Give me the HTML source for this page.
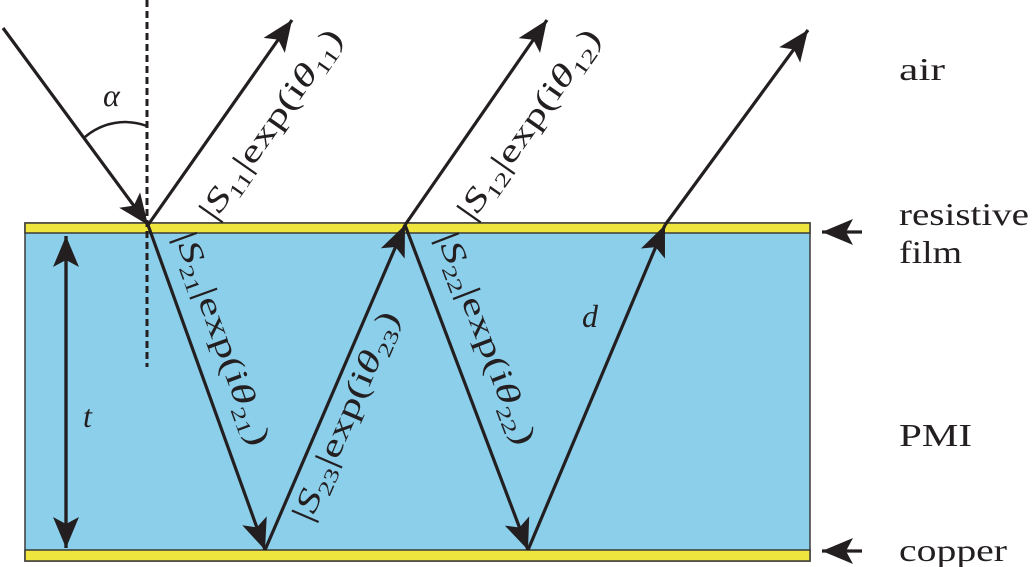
<!DOCTYPE html>
<html><head><style>body{margin:0;background:#fff}svg{display:block}text{font-family:"Liberation Serif",serif;fill:#231f20}</style></head>
<body>
<svg width="1034" height="567" viewBox="0 0 1034 567">
<defs><marker id="a" viewBox="0 0 10 10" refX="9" refY="5" markerWidth="10" markerHeight="10" markerUnits="userSpaceOnUse" orient="auto" style="overflow:visible"><path d="M-22,-8 L9,5 L-22,18 L-15,5 Z" fill="#231f20"/></marker></defs>
<rect x="25" y="223" width="785" height="338" fill="#8ccfeb" stroke="#3a3a3a" stroke-width="1.5"/>
<rect x="25" y="223" width="785" height="10" fill="#efe53f" stroke="#3a3a3a" stroke-width="1.5"/>
<rect x="25" y="550" width="785" height="11" fill="#efe53f" stroke="#3a3a3a" stroke-width="1.5"/>
<line x1="147" y1="0" x2="147" y2="367" stroke="#231f20" stroke-width="3" stroke-dasharray="7,4"/>
<g stroke="#231f20" stroke-width="3.2" fill="none" marker-end="url(#a)">
<line x1="3" y1="28" x2="148" y2="225"/>
<line x1="148" y1="225" x2="292" y2="20"/>
<line x1="148" y1="225" x2="265" y2="550"/>
<line x1="265" y1="550" x2="405" y2="225"/>
<line x1="405" y1="225" x2="547" y2="20"/>
<line x1="405" y1="225" x2="528" y2="550"/>
<line x1="528" y1="550" x2="665" y2="225"/>
<line x1="665" y1="225" x2="808" y2="30"/>
<line x1="66" y1="548" x2="66" y2="236"/>
<line x1="66" y1="236" x2="66" y2="548"/>
<line x1="862" y1="232" x2="822" y2="232"/>
<line x1="862" y1="551" x2="822" y2="551"/>
</g>
<path d="M85,137 A62,62 0 0 1 147,126" stroke="#231f20" stroke-width="2.5" fill="none"/>
<g font-size="32">
<text x="103" y="106" font-style="italic">α</text>
<text x="83" y="427" font-style="italic">t</text>
<text x="582" y="327" font-style="italic">d</text>
<text x="899" y="80" textLength="46" lengthAdjust="spacingAndGlyphs">air</text>
<text x="899" y="225" textLength="130" lengthAdjust="spacingAndGlyphs">resistive</text>
<text x="899" y="263" textLength="63" lengthAdjust="spacingAndGlyphs">film</text>
<text x="899" y="446" textLength="73" lengthAdjust="spacingAndGlyphs">PMI</text>
<text x="899" y="561" textLength="108" lengthAdjust="spacingAndGlyphs">copper</text>
<text transform="translate(279,130) rotate(-55)" text-anchor="middle" textLength="225" lengthAdjust="spacingAndGlyphs">|<tspan font-style="italic">S</tspan><tspan font-size="20" dy="7">11</tspan><tspan dy="-7">|exp(i</tspan><tspan font-style="italic">θ</tspan><tspan font-size="20" dy="7">11</tspan><tspan dy="-7">)</tspan></text>
<text transform="translate(537,130) rotate(-55)" text-anchor="middle" textLength="225" lengthAdjust="spacingAndGlyphs">|<tspan font-style="italic">S</tspan><tspan font-size="20" dy="7">12</tspan><tspan dy="-7">|exp(i</tspan><tspan font-style="italic">θ</tspan><tspan font-size="20" dy="7">12</tspan><tspan dy="-7">)</tspan></text>
<text transform="translate(213,342) rotate(70)" text-anchor="middle" textLength="225" lengthAdjust="spacingAndGlyphs">|<tspan font-style="italic">S</tspan><tspan font-size="20" dy="7">21</tspan><tspan dy="-7">|exp(i</tspan><tspan font-style="italic">θ</tspan><tspan font-size="20" dy="7">21</tspan><tspan dy="-7">)</tspan></text>
<text transform="translate(355,420) rotate(-66.7)" text-anchor="middle" textLength="225" lengthAdjust="spacingAndGlyphs">|<tspan font-style="italic">S</tspan><tspan font-size="20" dy="7">23</tspan><tspan dy="-7">|exp(i</tspan><tspan font-style="italic">θ</tspan><tspan font-size="20" dy="7">23</tspan><tspan dy="-7">)</tspan></text>
<text transform="translate(477,342) rotate(69)" text-anchor="middle" textLength="225" lengthAdjust="spacingAndGlyphs">|<tspan font-style="italic">S</tspan><tspan font-size="20" dy="7">22</tspan><tspan dy="-7">|exp(i</tspan><tspan font-style="italic">θ</tspan><tspan font-size="20" dy="7">22</tspan><tspan dy="-7">)</tspan></text>
</g>
</svg>
</body></html>
